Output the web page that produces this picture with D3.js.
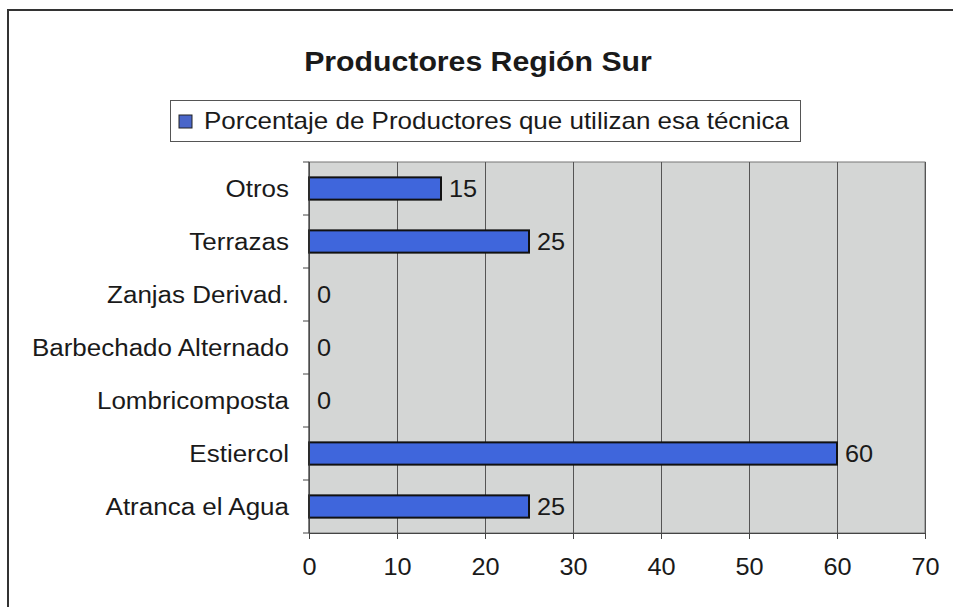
<!DOCTYPE html>
<html>
<head>
<meta charset="utf-8">
<script src="https://cdn.jsdelivr.net/npm/d3@7"></script>
<style>
  body { margin: 0; background: #fff; }
  text { font-family: "Liberation Sans", Arial, sans-serif; fill: #1a1a1a; }
</style>
</head>
<body>
<div id="chart"></div>
<script>
var categories = ["Otros", "Terrazas", "Zanjas Derivad.", "Barbechado Alternado", "Lombricomposta", "Estiercol", "Atranca el Agua"];
var values = [15, 25, 0, 0, 0, 60, 25];
var xTicks = [0, 10, 20, 30, 40, 50, 60, 70];
var seriesName = "Porcentaje de Productores que utilizan esa técnica";
var title = "Productores Región Sur";

var W = 953, H = 607;
var margin = {top: 162, right: 28, bottom: 74, left: 309},
    width = W - margin.left - margin.right,
    height = H - margin.top - margin.bottom;

// the original text is a bit wider than Liberation Sans, stretch it a little
var stretch = 1.1;

var svg = d3.select("#chart").append("svg")
    .attr("width", W)
    .attr("height", H);

// outer frame (runs off right and bottom edge)
svg.append("rect")
    .attr("x", 8).attr("y", 10)
    .attr("width", W + 20).attr("height", H + 20)
    .attr("fill", "#fff")
    .attr("stroke", "#333")
    .attr("stroke-width", 2);

svg.append("text")
    .attr("transform", "translate(478,71) scale(1.08,1)")
    .attr("text-anchor", "middle")
    .style("font-size", "28px")
    .style("font-weight", "bold")
    .text(title);

// legend
var lg = svg.append("g");
lg.append("rect")
    .attr("x", 170.5).attr("y", 100.5)
    .attr("width", 630).attr("height", 41)
    .attr("fill", "#fff")
    .attr("stroke", "#555");
lg.append("rect")
    .attr("x", 179).attr("y", 115)
    .attr("width", 13).attr("height", 13)
    .attr("fill", "#4a66c9")
    .attr("stroke", "#222");
lg.append("text")
    .attr("x", 204).attr("y", 129)
    .attr("textLength", 585)
    .attr("lengthAdjust", "spacingAndGlyphs")
    .style("font-size", "24px")
    .text(seriesName);

var g = svg.append("g")
    .attr("transform", "translate(" + margin.left + "," + margin.top + ")");

var x = d3.scaleLinear().domain([0, 70]).range([0, width]);
var y = d3.scaleBand().domain(categories).range([0, height]).paddingInner(0.58).paddingOuter(0.29);
var yb = d3.scaleBand().domain(categories).range([0, height]);

g.append("rect")
    .attr("width", width).attr("height", height)
    .attr("fill", "#d4d6d5")
    .attr("stroke", "#777");

// gridlines
g.append("g")
    .attr("class", "grid")
    .call(d3.axisBottom(x).tickValues(xTicks).tickSize(height).tickFormat(""))
    .call(function(s) {
      s.select(".domain").remove();
      s.selectAll("line").attr("stroke", "#555").attr("stroke-width", 1);
    });

// bars
g.selectAll(".bar")
    .data(values)
    .enter().append("rect")
    .attr("class", "bar")
    .attr("x", x(0))
    .attr("y", function(d, i) { return y(categories[i]); })
    .attr("width", function(d) { return x(d) - x(0); })
    .attr("height", y.bandwidth())
    .attr("fill", "#3f66dc")
    .attr("stroke", "#111")
    .attr("stroke-width", 2)
    .style("display", function(d) { return d > 0 ? null : "none"; });

// value labels
g.selectAll(".lbl")
    .data(values)
    .enter().append("text")
    .attr("class", "lbl")
    .attr("transform", function(d, i) {
      return "translate(" + (x(d) + 8) + "," + (yb(categories[i]) + yb.bandwidth() / 2) + ") scale(" + stretch + ",1)";
    })
    .attr("dy", "0.35em")
    .style("font-size", "23px")
    .text(function(d) { return d; });

// x axis
g.append("g")
    .attr("transform", "translate(0," + height + ")")
    .call(d3.axisBottom(x).tickValues(xTicks).tickSize(6).tickPadding(20))
    .call(function(s) {
      s.select(".domain").attr("stroke", "#444");
      s.selectAll("line").attr("stroke", "#444");
      s.selectAll("text")
        .style("font-size", "23px")
        .attr("fill", "#1a1a1a")
        .attr("transform", "scale(" + stretch + ",1)");
    });

// y axis: ticks at band boundaries
var yAxis = g.append("g");
yAxis.append("line")
    .attr("x1", 0).attr("x2", 0).attr("y1", 0).attr("y2", height)
    .attr("stroke", "#444");
yAxis.selectAll(".ytick")
    .data(categories.concat(["end"]))
    .enter().append("line")
    .attr("x1", -6).attr("x2", 0)
    .attr("y1", function(d, i) { return i * yb.step(); })
    .attr("y2", function(d, i) { return i * yb.step(); })
    .attr("stroke", "#444");
yAxis.selectAll(".ylab")
    .data(categories)
    .enter().append("text")
    .attr("transform", function(d) {
      return "translate(-20," + (yb(d) + yb.bandwidth() / 2) + ") scale(1.13,1)";
    })
    .attr("dy", "0.35em")
    .attr("text-anchor", "end")
    .style("font-size", "23px")
    .text(function(d) { return d; });
</script>
</body>
</html>
